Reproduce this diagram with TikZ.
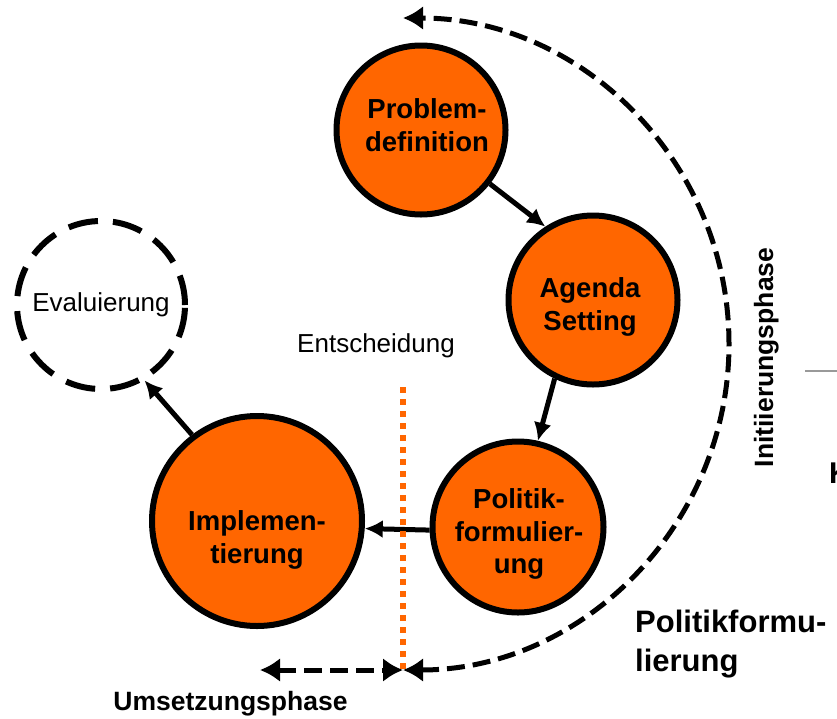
\documentclass[tikz,border=0pt]{standalone}
\usepackage{fontspec}
\setmainfont{Liberation Sans}
\usetikzlibrary{arrows.meta}
\definecolor{orng}{HTML}{FF6600}
\begin{document}
\begin{tikzpicture}[x=1pt,y=-1pt,
  phasecircle/.style={circle, draw=black, line width=6pt, fill=orng, minimum size=#1, inner sep=0pt},
  ctext/.style={font=\fontsize{27.5}{32.5}\selectfont\bfseries, align=center, inner sep=0pt},
  flow/.style={line width=5pt, -{Latex[length=18pt,width=18pt]}},
  phasearrow/.style={line width=5pt, dash pattern=on 18pt off 8pt, {Latex[length=20pt,width=24pt]}-{Latex[length=20pt,width=24pt]}},
  plain/.style={font=\fontsize{26}{30}\selectfont, inner sep=0pt},
  boldlbl/.style={font=\fontsize{26.5}{30}\selectfont\bfseries, inner sep=0pt}]
\useasboundingbox (0,0) rectangle (837,718);

% phase circles
\node[phasecircle=169pt] (prob) at (421,130) {};
\node[phasecircle=169pt] (agenda) at (593,300) {};
\node[phasecircle=171pt] (pol) at (518,527) {};
\node[phasecircle=210pt] (impl) at (257,521) {};
\node[circle, draw, line width=6pt, dash pattern=on 30pt off 15pt, minimum size=168pt, inner sep=0pt, plain] (eval) at (101,305) {Evaluierung};

% circle texts
\node[ctext] (probtxt) at (427,125) {Problem-\\definition};
\node[ctext] (agendatxt) at (590,307) {Agenda\\Setting};
\node[ctext] (poltxt) at (519,534) {Politik-\\formulier-\\ung};
\node[ctext] (impltxt) at (257,540) {Implemen-\\tierung};

% flow arrows
\draw[flow] (prob.-38) -- (agenda.123);
\draw[flow] (agenda.-116) -- (pol.77);
\draw[flow] (pol.182) -- (impl.-4);
\draw[flow] (impl.127) -- (eval.-60);

% decision line
\coordinate (dtop) at (403,387);
\coordinate (dbot) at (403,672);
\draw[orng, line width=6pt, dash pattern=on 6pt off 6pt] (dtop) -- (dbot);
\node[plain] (ent) at (376,346) {Entscheidung};

% phase arrows
\coordinate (dec) at (403,670);
\coordinate (uend) at (260,670);
\draw[phasearrow] (dec) arc[start angle=90, end angle=-90, radius=326];
\draw[phasearrow] (uend) -- (dec);

% labels
\node[boldlbl, anchor=base] (ums) at (230.5,710) {Umsetzungsphase};
\node[boldlbl, rotate=90, anchor=base] (init) at (773,357.5) {Initiierungsphase};
\node[font=\fontsize{31}{39}\selectfont\bfseries, align=left, anchor=north west, inner sep=0pt] (pf) at (635,610) {Politikformu-\\lierung};
\node[font=\fontsize{30}{36}\selectfont\bfseries, anchor=base west, inner sep=0pt] (k) at (829,483) {K};

\coordinate (g1) at (805,371);
\coordinate (g2) at (837,371);
\draw[gray!80, line width=1.5pt] (g1) -- (g2);
\end{tikzpicture}
\end{document}
